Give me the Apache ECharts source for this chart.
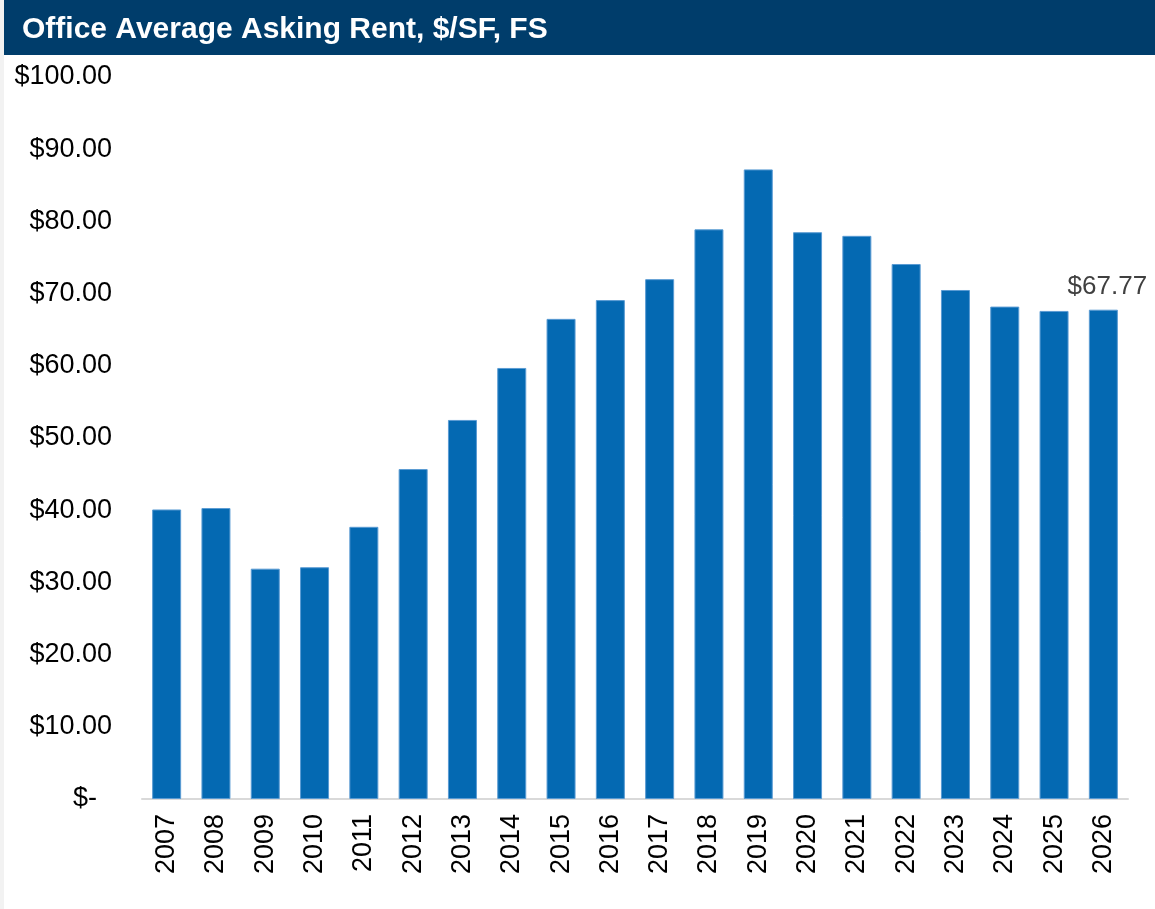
<!DOCTYPE html>
<html><head><meta charset="utf-8">
<script src="https://cdn.jsdelivr.net/npm/echarts@6/dist/echarts.min.js"></script>
<style>html,body{margin:0;padding:0;background:#fff}#c{width:1155px;height:909px}</style>
</head><body><div id="c"></div>
<script>
const titleText = 'Office Average Asking Rent, $/SF, FS';
const years = ['2007','2008','2009','2010','2011','2012','2013','2014','2015','2016','2017','2018','2019','2020','2021','2022','2023','2024','2025','2026'];
const rents = [40.1,40.3,31.9,32.1,37.7,45.7,52.5,59.7,66.5,69.1,72.0,78.9,87.2,78.5,78.0,74.1,70.5,68.2,67.6,67.77];
const labelledYear = '2026';

const chart = echarts.init(document.getElementById('c'), null, {renderer:'canvas'});
const F = '"Liberation Sans", Arial, sans-serif';
chart.setOption({
  backgroundColor:'#fff',
  animation:false,
  graphic:[
    {type:'rect', left:0, top:0, shape:{width:4, height:909}, style:{fill:'#f2f2f2'}, silent:true},
    {type:'rect', left:4, top:0, shape:{width:1151, height:55}, style:{fill:'#003d6b'}, silent:true},
    {type:'text', left:22, top:15, style:{text:titleText, fill:'#fff', font:'bold 30px '+F}, silent:true}
  ],
  grid:{left:142, right:27, top:77, bottom:110},
  xAxis:{
    type:'category', data:years,
    axisLine:{lineStyle:{color:'#d9d9d9', width:2}},
    axisTick:{show:false},
    axisLabel:{rotate:90, fontSize:27, fontFamily:F, color:'#000', margin:15}
  },
  yAxis:{
    type:'value', min:0, max:100, interval:10,
    splitLine:{show:false}, axisLine:{show:false}, axisTick:{show:false},
    axisLabel:{fontSize:27, fontFamily:F, color:'#000', margin:30,
      formatter:v => v === 0 ? '$-  ' : '$' + v.toFixed(2)}
  },
  series:[{
    type:'bar', data:rents.map((v,i)=>({value:v, label:{show: years[i]===labelledYear}})),
    barWidth:29,
    itemStyle:{color:'#0469b2', borderColor:'#5a9bd3', borderWidth:1},
    label:{position:'top', distance:10, offset:[4,0], fontSize:26, fontFamily:F, color:'#404040',
      formatter:p => '$' + p.value.toFixed(2)}
  }]
});
</script></body></html>
